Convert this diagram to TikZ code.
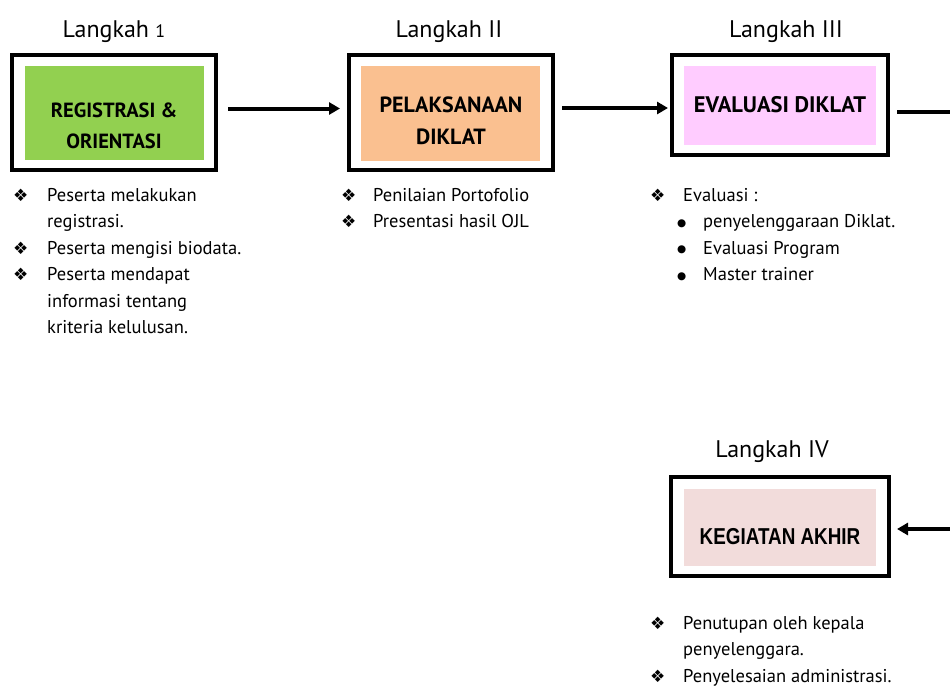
\documentclass[tikz,border=0pt]{standalone}
\usepackage{fontspec}
\setmainfont{PT Sans}
\newfontfamily\symfont{DejaVu Sans}
\newfontfamily\narrowfont{Liberation Sans}[FakeStretch=0.82]
\usetikzlibrary{arrows.meta, positioning, calc}
\definecolor{regcolor}  {RGB}{146, 208, 80}
\definecolor{pelcolor}  {RGB}{250, 192, 144}
\definecolor{evalcolor} {RGB}{255, 204, 255}
\definecolor{akhircolor}{RGB}{242, 220, 219}
\newcommand{\dia}{{\symfont\fontsize{17}{26}\selectfont ❖}}
\newcommand{\bul}{\raisebox{1.5pt}{\symfont\fontsize{10.5}{26}\selectfont ●}}
\tikzset{
	framebox/.style={
		rectangle, draw=black, line width=4pt, fill=white
	},
	fillbox/.style={
		rectangle, inner sep=0pt
	},
	titletext/.style={
		inner sep=0pt, align=center,
		font=\fontsize{21}{31}\selectfont\bfseries
	},
	steplabel/.style={
		inner sep=0pt, font=\fontsize{24}{28}\selectfont
	},
	itemlist/.style={
		inner sep=0pt, anchor=base west,
		font=\fontsize{18.5}{26.5}\selectfont
	},
	arrow/.style={
		-{Triangle[length=11pt, width=12pt]}, line width=4pt
	},
	plainline/.style={
		line width=4pt
	}
}

\begin{document}
\begin{tikzpicture}[x=1pt, y=1pt, node distance=10pt]
		\useasboundingbox (0,0) rectangle (950,-686);
		%% ═══════════════════════════════
		%%  LANGKAH 1
		%% ═══════════════════════════════
		\node[framebox, minimum width=204pt, minimum height=115pt] (regframe) at (114,-112.5) {};
		\node[fillbox, fill=regcolor, minimum width=179pt, minimum height=94pt] (regfill) at (114.5,-113) {};
		\node[titletext, font=\fontsize{20.5}{31}\selectfont\bfseries] (regtitle) at (114,-125.5) {REGISTRASI \&\\ORIENTASI};
		\node[steplabel, above=of regframe] (reglabel) {Langkah {\fontsize{18}{18}\selectfont 1}};
		
		\node[itemlist] (reglist) at (13,-201) {%
			\begin{tabular}[t]{@{}p{34pt}@{}l@{}}
				\dia & Peserta melakukan\\
				& registrasi.\\
				\dia & Peserta mengisi biodata.\\
				\dia & Peserta mendapat\\
				& informasi tentang\\
				& kriteria kelulusan.
		\end{tabular}};
		
		%% ═══════════════════════════════
		%%  LANGKAH II
		%% ═══════════════════════════════
		\node[framebox, minimum width=204pt, minimum height=115pt] (pelframe) at (451,-112.5) {};
		\node[fillbox, fill=pelcolor, minimum width=179pt, minimum height=95pt] (pelfill) at (450.5,-113.5) {};
		\node[titletext, font=\fontsize{22}{32}\selectfont\bfseries] (peltitle) at (451,-121) {PELAKSANAAN\\DIKLAT};
		\node[steplabel, above=of pelframe, xshift=-2pt] (pellabel) {Langkah II};
		
		\node[itemlist] (pellist) at (341,-201) {%
			\begin{tabular}[t]{@{}p{32pt}@{}l@{}}
				\dia & Penilaian Portofolio\\
				\dia & Presentasi hasil OJL
		\end{tabular}};
		
		%% ═══════════════════════════════
		%%  LANGKAH III
		%% ═══════════════════════════════
		\node[framebox, minimum width=216pt, minimum height=100pt] (evalframe) at (780,-105) {};
		\node[fillbox, fill=evalcolor, minimum width=192pt, minimum height=79pt] (evalfill) at (780,-105.5) {};
		\node[titletext, font=\fontsize{22.5}{32}\selectfont\bfseries] (evaltitle) at (780,-105) {EVALUASI DIKLAT};
		\node[steplabel, above=of evalframe, xshift=6pt] (evallabel) {Langkah III};
		
		\node[itemlist] (evallist) at (650,-201) {%
			\begin{tabular}[t]{@{}p{27pt}@{}p{26pt}@{}l@{}}
				\dia & \multicolumn{2}{@{\hspace{6pt}}l@{}}{Evaluasi :}\\
				& \bul & penyelenggaraan Diklat.\\
				& \bul & Evaluasi Program\\
				& \bul & Master trainer
		\end{tabular}};
		
		%% ═══════════════════════════════
		%%  LANGKAH IV
		%% ═══════════════════════════════
		\node[framebox, minimum width=218pt, minimum height=99pt] (akhirframe) at (780,-526.5) {};
		\node[fillbox, fill=akhircolor, minimum width=192pt, minimum height=77pt] (akhirfill) at (780,-527.5) {};
		\node[titletext, font=\narrowfont\fontsize{23}{28}\selectfont\bfseries] (akhirtitle) at (780,-536.5) {KEGIATAN AKHIR};
		\node[steplabel, above=12pt of akhirframe, xshift=-8pt] (akhirlabel) {Langkah IV};
		
		\node[itemlist] (akhirlist) at (650,-629) {%
			\begin{tabular}[t]{@{}p{33pt}@{}l@{}}
				\dia & Penutupan oleh kepala\\
				& penyelenggara.\\
				\dia & Penyelesaian administrasi.
		\end{tabular}};
		
		%% ═══════════════════════════════
		%%  ARROWS
		%% ═══════════════════════════════
		\coordinate (edgetop) at (950,-112);
		\coordinate (edgebot) at (950,-529);
		\coordinate (regout) at ([xshift=10pt, yshift=4pt]regframe.east);
		\coordinate (pelout) at ([xshift=7pt, yshift=4.5pt]pelframe.east);
		
		% Registrasi → Pelaksanaan
		\draw[arrow] (regout) -- ($(regout -| pelframe.west)+(-7,0)$);
		
		% Pelaksanaan → Evaluasi
		\draw[arrow] (pelout) -- ($(pelout -| evalframe.west)+(-2,0)$);
		
		% Evaluasi → keluar kanan
		\draw[plainline] ($(edgetop -| evalframe.east)+(7,0)$) -- (edgetop);
		
		% masuk kanan → Kegiatan Akhir
		\draw[arrow] (edgebot) -- ($(edgebot -| akhirframe.east)+(6,0)$);
		
	\end{tikzpicture}
\end{document}
